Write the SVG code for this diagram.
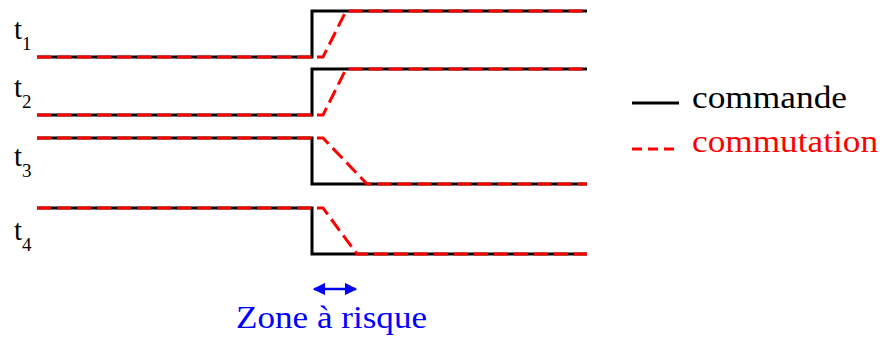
<svg xmlns="http://www.w3.org/2000/svg" width="884" height="338" viewBox="0 0 884 338">
<style>
.cmd{fill:none;stroke:#000;stroke-width:3}
.com{fill:none;stroke:#f00;stroke-width:3;stroke-dasharray:14 6}
text{font-family:'Liberation Serif','DejaVu Serif',serif}
.lbl{font-size:29px;fill:#000}
.sub{font-size:19px}
.leg{font-size:32px}
</style>
<defs>
<marker id="ah" viewBox="0 0 10 10" refX="9" refY="5" markerWidth="5" markerHeight="5" orient="auto-start-reverse" markerUnits="strokeWidth">
<path d="M0,0 L10,5 L0,10 z" fill="#00f"/>
</marker>
</defs>
<g id="row1">
<path class="cmd" d="M37,57 H312 V11 H587"/>
<path class="com" d="M37,57 H323 L346,11 H587"/>
<text class="lbl" x="14" y="39">t<tspan class="sub" dy="11">1</tspan></text>
</g>
<g id="row2">
<path class="cmd" d="M37,115 H312 V69 H587"/>
<path class="com" d="M37,115 H323 L346,69 H587"/>
<text class="lbl" x="14" y="97">t<tspan class="sub" dy="11">2</tspan></text>
</g>
<g id="row3">
<path class="cmd" d="M37,138 H312 V184 H587"/>
<path class="com" d="M37,138 H323 L367,184 H587"/>
<text class="lbl" x="14" y="166">t<tspan class="sub" dy="11">3</tspan></text>
</g>
<g id="row4">
<path class="cmd" d="M37,208 H312 V254 H587"/>
<path class="com" d="M37,208 H323 L357,254 H587"/>
<text class="lbl" x="14" y="240">t<tspan class="sub" dy="11">4</tspan></text>
</g>
<g id="legend">
<line class="cmd" x1="632" y1="103" x2="679" y2="103"/>
<text class="leg" x="692" y="108" fill="#000" textLength="155" lengthAdjust="spacingAndGlyphs">commande</text>
<line x1="632" y1="149" x2="679" y2="149" stroke="#f00" stroke-width="3" stroke-dasharray="10 6"/>
<text class="leg" x="692" y="152" fill="#f00" textLength="186" lengthAdjust="spacingAndGlyphs">commutation</text>
</g>
<g id="zone">
<line x1="314" y1="289" x2="356" y2="289" stroke="#00f" stroke-width="2.5" marker-start="url(#ah)" marker-end="url(#ah)"/>
<text class="leg" x="236" y="328" fill="#00f" textLength="191" lengthAdjust="spacingAndGlyphs">Zone à risque</text>
</g>
</svg>
